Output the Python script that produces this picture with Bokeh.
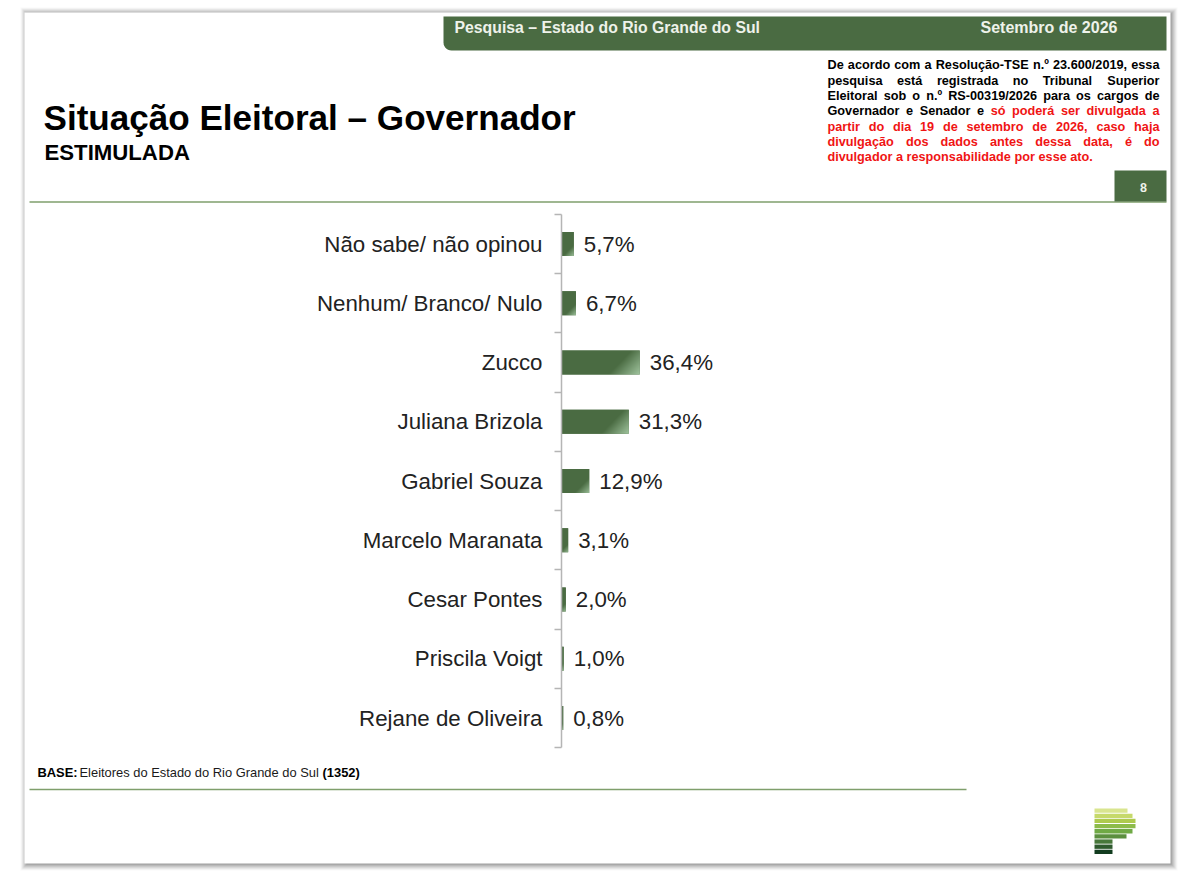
import numpy as np
from bokeh.core.properties import value
from bokeh.embed import file_html
from bokeh.models import ColumnDataSource, FixedTicker, LinearAxis, Range1d
from bokeh.plotting import figure
from bokeh.resources import INLINE

categories = ["Não sabe/ não opinou", "Nenhum/ Branco/ Nulo", "Zucco", "Juliana Brizola", "Gabriel Souza",
              "Marcelo Maranata", "Cesar Pontes", "Priscila Voigt", "Rejane de Oliveira"]
shares = [5.7, 6.7, 36.4, 31.3, 12.9, 3.1, 2.0, 1.0, 0.8]
share_labels = ["5,7%", "6,7%", "36,4%", "31,3%", "12,9%", "3,1%", "2,0%", "1,0%", "0,8%"]

FONT = value("Liberation Sans")
GREEN = "#4a6b42"
W, H = 1184, 875
ORIGIN_X, ORIGIN_Y = 1, 0   # page pixel at the figure's top-left corner
PX_PER_PCT, PX_PER_ROW = 2.15, 59.25
X0, Y0 = 562, 243.5         # reference pixel of value 0 / first row
BAR = 0.405


def rx(px):
    return (px - X0) / PX_PER_PCT


def ry(px):
    return (px - Y0) / PX_PER_ROW


p = figure(width=W, height=H, output_backend="svg", toolbar_location=None,
           x_range=Range1d(rx(ORIGIN_X), rx(ORIGIN_X + W)), y_range=Range1d(ry(ORIGIN_Y + H), ry(ORIGIN_Y)),
           x_axis_location=None, y_axis_location=None, min_border=0,
           min_border_left=0, min_border_right=0, min_border_top=0, min_border_bottom=0,
           outline_line_color=None, background_fill_color="white", border_fill_color="white")
p.xgrid.visible = False
p.ygrid.visible = False
p.extra_x_ranges["page"] = Range1d(ORIGIN_X, ORIGIN_X + W)
p.extra_y_ranges["page"] = Range1d(ORIGIN_Y + H, ORIGIN_Y)
PG = dict(x_range_name="page", y_range_name="page")


def box(l, t, r, b, color, alpha=1.0):
    p.quad(left=[l], right=[r], top=[t], bottom=[b], fill_color=color, fill_alpha=alpha, line_color=None, **PG)


def label(x, y, text, size, color="#000000", style="bold", align="left"):
    p.text(x=[x], y=[y], text=[text], text_font=FONT, text_font_size=f"{size}px", text_font_style=style,
           text_color=color, text_align=align, text_baseline="middle", **PG)


# slide shadow and sheet
for grow, alpha in [(7, 0.05), (6, 0.07), (5, 0.10), (4, 0.12), (3, 0.16), (2, 0.20), (1, 0.24)]:
    box(26 - grow + 2, 12 - grow + 2, 1171 + grow, 863 + grow, "#6e6e6e", alpha)
box(25, 12, 1171, 863, "#ffffff")

# header band with rounded lower-left corner
t_ = np.linspace(0, np.pi / 2, 8)
hx = [444, 1167, 1167] + list(452 - 8 * np.sin(t_))
hy = [16, 16, 50] + list(42 + 8 * np.cos(t_))
p.patch(hx, hy, fill_color=GREEN, line_color=None, **PG)
label(455, 27, "Pesquisa – Estado do Rio Grande do Sul", 15.8, "#eef2ea")
label(981, 27, "Setembro de 2026", 16, "#eef2ea")

# title
label(44, 117, "Situação Eleitoral – Governador", 35.1)
label(45, 152, "ESTIMULADA", 22.2)

# rules
p.segment([30], [201.5], [1167], [201.5], line_color="#7f9f6c", line_width=1.6, **PG)
p.segment([30], [789], [967], [789], line_color="#7f9f6c", line_width=1.6, **PG)
box(1115, 170, 1167, 201, GREEN)
label(1144, 187, "8", 12.5, "#eef2ea", align="center")

# justified registration note
AFM = dict(zip("abcdefghijklmnopqrstuvwxyz",
               [556, 611, 556, 611, 556, 333, 611, 611, 278, 278, 556, 278, 889, 611, 611, 611, 611, 389, 556, 333,
                611, 556, 778, 556, 556, 500]))
AFM.update({"ç": 556, "ã": 556, "á": 556, "é": 556, "ó": 611, "ê": 556, "º": 365, ",": 278, ".": 278, "-": 333,
            "/": 278, "D": 722, "T": 611, "S": 667, "E": 667, "G": 778, "R": 722})
NOTE_SIZE = 12.7
NOTE_L, NOTE_R = 828, 1160
note = [
    (64, [("De acordo com a Resolução-TSE n.º 23.600/2019, essa", "#000000")], True),
    (80, [("pesquisa está registrada no Tribunal Superior", "#000000")], True),
    (95, [("Eleitoral sob o n.º RS-00319/2026 para os cargos de", "#000000")], True),
    (110, [("Governador e Senador e", "#000000"), ("só poderá ser divulgada a", "#f01414")], True),
    (126, [("partir do dia 19 de setembro de 2026, caso haja", "#f01414")], True),
    (141, [("divulgação dos dados antes dessa data, é do", "#f01414")], True),
    (156, [("divulgador a responsabilidade por esse ato.", "#f01414")], False),
]


def word_w(word):
    return sum(AFM.get(c, 556) for c in word) * NOTE_SIZE / 1000


for y, runs, justify in note:
    words = [(w, c) for txt, c in runs for w in txt.split()]
    total = sum(word_w(w) for w, _ in words)
    gap = (NOTE_R - NOTE_L - total) / (len(words) - 1) if justify else 0.278 * NOTE_SIZE
    x = NOTE_L
    for w, c in words:
        label(x, y, w, NOTE_SIZE, c)
        x += word_w(w) + gap

# base note
label(38, 772, "BASE:", 12.9)
label(80, 772, "Eleitores do Estado do Rio Grande do Sul", 12.9, "#1a1a1a", "normal")
label(323, 772, "(1352)", 12.9)

# logo
logo_right = [1128, 1133, 1136, 1136, 1133, 1127, 1113, 1113, 1113]
logo_colors = ["#d9e58f", "#c6d96a", "#aeca4e", "#8dbb4a", "#6fa945", "#5b8f3f", "#47773a", "#2f5a2e", "#123c1f"]
for i, (r, c) in enumerate(zip(logo_right, logo_colors)):
    box(1095, 808 + i * 5.15, r, 812.3 + i * 5.15, c)

# bars
rows = list(range(len(categories)))
src = ColumnDataSource(dict(row=rows, share=shares, cat=categories, lab=share_labels))
p.hbar(y="row", right="share", left=0, height=BAR, source=src, fill_color=GREEN, line_color=None)

dark = np.array([0x4a, 0x6b, 0x42])
light = np.array([0xa4, 0xc8, 0xa2])
for row, share in zip(rows, shares):
    w_px = max(int(round(share * PX_PER_PCT)), 1)
    h_px = int(round(BAR * PX_PER_ROW))
    u, v = np.meshgrid((np.arange(w_px) + 0.5), (np.arange(h_px) + 0.5))
    t = (u + v) / (w_px + h_px)
    k = np.clip((t - 0.68) / 0.32, 0, 1)[..., None]
    rgb = (dark * (1 - k) + light * k).astype(np.uint32)
    img = rgb[..., 0] | (rgb[..., 1] << 8) | (rgb[..., 2] << 16) | (255 << 24)
    p.image_rgba(image=[img], x=0, y=row - BAR / 2, dw=share, dh=BAR)

p.text(x="share", y="row", text="lab", source=src, x_offset=10, text_font=FONT, text_font_size="22.3px",
       text_color="#222222", text_baseline="middle", text_align="left")

# category axis on the zero line
edges = [r - 0.5 for r in rows] + [len(rows) - 0.5]
axis = LinearAxis(fixed_location=0, bounds=(edges[0], edges[-1]),
                  ticker=FixedTicker(ticks=rows, minor_ticks=edges),
                  major_label_overrides=dict(zip(rows, categories)),
                  major_tick_line_color=None, major_tick_in=0, major_tick_out=0,
                  minor_tick_in=0, minor_tick_out=7, minor_tick_line_color="#b5b5b5", minor_tick_line_width=1.5,
                  axis_line_color="#b5b5b5", axis_line_width=1.5, major_label_standoff=12,
                  major_label_text_font="Liberation Sans", major_label_text_font_size="22.3px",
                  major_label_text_color="#222222")
p.add_layout(axis, "left")

open("out.html", "w").write(file_html(p, INLINE))
